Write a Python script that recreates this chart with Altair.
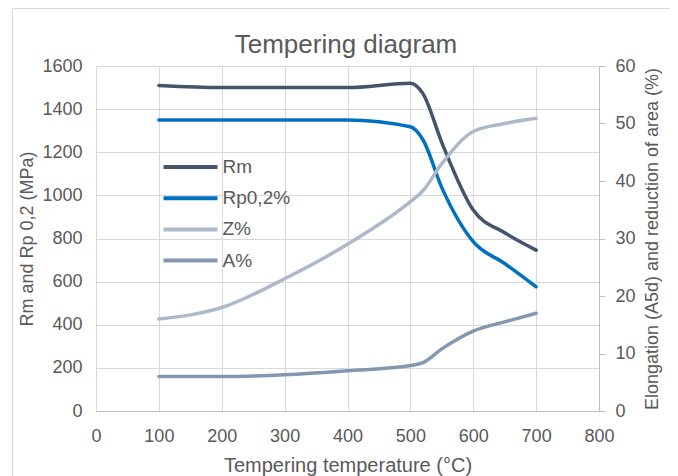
import altair as alt
import pandas as pd

temps = [100, 200, 300, 400, 500, 520, 550, 600, 650, 700]
rm = [1510, 1500, 1500, 1500, 1520, 1472, 1245, 932, 827, 746]
rp = [1350, 1350, 1350, 1350, 1318, 1258, 1036, 785, 684, 576]
z = [16, 18, 23, 29, 36.4, 38.3, 43.0, 48.6, 50.0, 50.9]
a = [6, 6, 6.3, 7, 7.9, 8.4, 10.8, 13.9, 15.5, 17]

series = ["Rm", "Rp0,2%", "Z%", "A%"]
colors = ["#44546A", "#0070C0", "#ADB9CA", "#8497B0"]
chart_title = "Tempering  diagram"

left_df = pd.DataFrame(
    {"t": temps * 2, "v": rm + rp, "s": ["Rm"] * len(temps) + ["Rp0,2%"] * len(temps)}
)
right_df = pd.DataFrame(
    {"t": temps * 2, "v": z + a, "s": ["Z%"] * len(temps) + ["A%"] * len(temps)}
)

FONT = "Liberation Sans"
GREY = "#595959"

color = alt.Color(
    "s:N",
    scale=alt.Scale(domain=series, range=colors),
    sort=series,
    legend=alt.Legend(
        orient="none",
        legendX=85,
        legendY=91.5,
        title=None,
        symbolType="M-5,0H5",
        symbolSize=116.6,
        symbolStrokeWidth=4,
        labelOffset=22.5,
        rowPadding=11.2,
        labelFontSize=19,
        labelFont=FONT,
        labelColor=GREY,
        padding=0,
    ),
)

xenc = alt.X(
    "t:Q",
    scale=alt.Scale(domain=[0, 800], nice=False),
    axis=alt.Axis(
        values=[0, 100, 200, 300, 400, 500, 600, 700, 800],
        format="d",
        title="Tempering temperature (°C)",
        titleFontSize=20,
        ticks=False,
        labelFlush=False,
        labelPadding=16,
        titlePadding=10,
        domainColor="#BFBFBF",
        gridColor="#D9D9D9",
    ),
)

left = alt.Chart(left_df).mark_line(
    interpolate="monotone", strokeWidth=3.5, strokeCap="round"
).encode(
    x=xenc,
    y=alt.Y(
        "v:Q",
        scale=alt.Scale(domain=[0, 1600], nice=False),
        axis=alt.Axis(
            orient="left",
            values=[0, 200, 400, 600, 800, 1000, 1200, 1400, 1600],
            format="d",
            title="Rm and Rp 0,2  (MPa)",
            ticks=False,
            domain=False,
            labelFlush=False,
            labelPadding=14,
            titlePadding=5,
            gridColor="#D9D9D9",
        ),
    ),
    color=color,
)

right = alt.Chart(right_df).mark_line(
    interpolate="monotone", strokeWidth=3.5, strokeCap="round"
).encode(
    x=xenc,
    y=alt.Y(
        "v:Q",
        scale=alt.Scale(domain=[0, 60], nice=False),
        axis=alt.Axis(
            orient="right",
            values=[0, 10, 20, 30, 40, 50, 60],
            format="d",
            title="Elongation  (A5d) and reduction of area (%)",
            grid=False,
            ticks=True,
            tickSize=6,
            tickColor="#BFBFBF",
            domainColor="#BFBFBF",
            labelFlush=False,
            labelPadding=10,
            titlePadding=8,
            titleAngle=270,
            titleBaseline="top",
        ),
    ),
    color=color,
)

one = pd.DataFrame({"k": [0]})

frame = alt.Chart(one).mark_rect(
    fillOpacity=0, stroke="#D9D9D9", strokeWidth=1
).encode(
    x=alt.value(-83.5), x2=alt.value(579.5), y=alt.value(-57.5), y2=alt.value(430)
)

title_mark = alt.Chart(one).mark_text(
    font=FONT, fontSize=26, color=GREY, align="center", baseline="middle"
).encode(
    x=alt.value(250), y=alt.value(-21), text=alt.value(chart_title)
)

chart = (
    alt.layer(frame, title_mark, left, right)
    .resolve_scale(y="independent")
    .properties(
        width=503,
        height=345,
        autosize=alt.AutoSizeParams(type="none"),
        padding={"left": 88, "top": 58, "right": 71, "bottom": 65},
    )
    .configure_view(strokeWidth=0)
    .configure_axis(
        labelFont=FONT,
        titleFont=FONT,
        labelFontSize=18,
        titleFontSize=18,
        labelColor=GREY,
        titleColor=GREY,
        titleFontWeight="normal",
    )
)

chart.save("out.html", embed_options={"renderer": "svg", "actions": False})
